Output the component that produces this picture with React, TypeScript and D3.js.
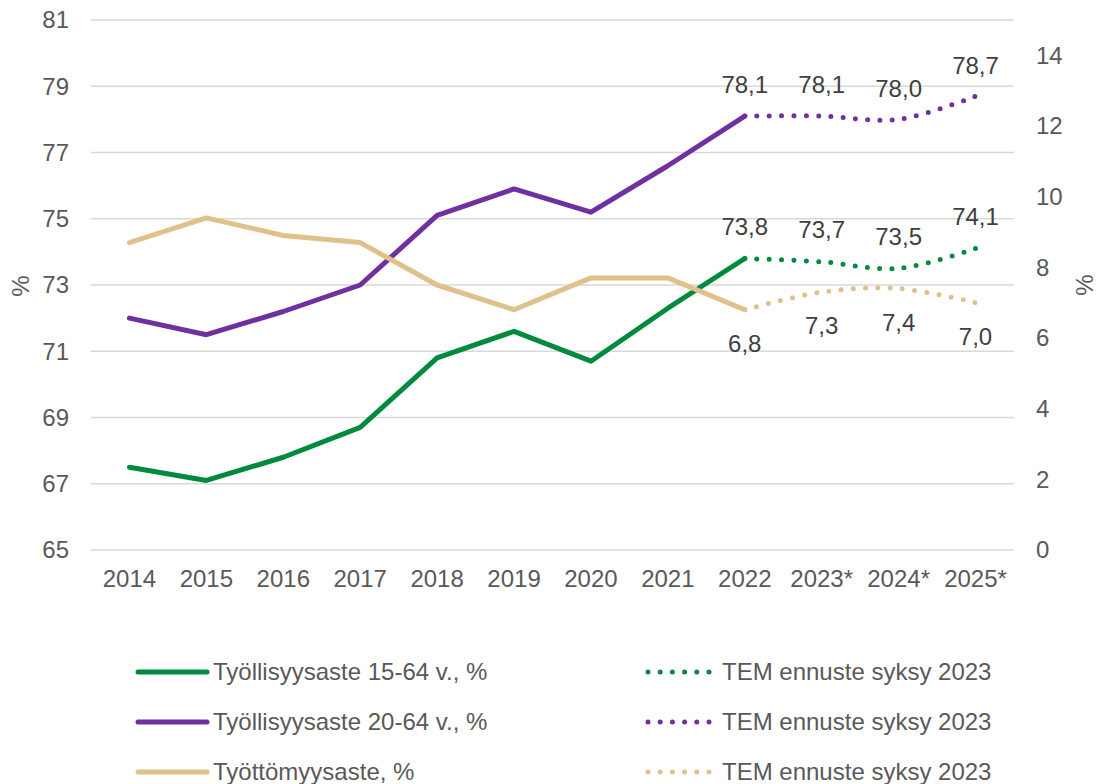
import React from 'react';
import * as d3 from 'd3';

const categories = ['2014', '2015', '2016', '2017', '2018', '2019', '2020', '2021', '2022', '2023*', '2024*', '2025*'];
const histCats = categories.slice(0, 9);
const fcCats = ['2022', '2023*', '2024*', '2025*'];

const emp1564 = [67.5, 67.1, 67.8, 68.7, 70.8, 71.6, 70.7, 72.3, 73.8];
const emp1564Forecast = [73.8, 73.7, 73.5, 74.1];
const emp2064 = [72.0, 71.5, 72.2, 73.0, 75.1, 75.9, 75.2, 76.6, 78.1];
const emp2064Forecast = [78.1, 78.1, 78.0, 78.7];
const unemp = [8.7, 9.4, 8.9, 8.7, 7.5, 6.8, 7.7, 7.7, 6.8];
const unempForecast = [6.8, 7.3, 7.4, 7.0];

const leftTicks = [65, 67, 69, 71, 73, 75, 77, 79, 81];
const rightTicks = [0, 2, 4, 6, 8, 10, 12, 14];

const legendLeft = ['Työllisyysaste 15-64 v., %', 'Työllisyysaste 20-64 v., %', 'Työttömyysaste, %'];
const legendRight = ['TEM ennuste syksy 2023', 'TEM ennuste syksy 2023', 'TEM ennuste syksy 2023'];

const GREEN = '#008A3E';
const PURPLE = '#7030A0';
const TAN = '#DFC18B';
const colors = [GREEN, PURPLE, TAN];
const TICK = '#595959';
const LABEL = '#404040';
const FONT = '"Liberation Sans", Arial, sans-serif';

export default function App() {
  const W = 1099, H = 784;
  const x = d3.scalePoint<string>().domain(categories).range([91, 1014]).padding(0.5);
  const yL = d3.scaleLinear().domain([65, 81]).range([550, 20]);
  const yR = d3.scaleLinear().domain([0, 15]).range([550, 20]);

  const lineL = d3.line<[string, number]>().x(d => x(d[0])!).y(d => yL(d[1]));
  const lineR = d3.line<[string, number]>().x(d => x(d[0])!).y(d => yR(d[1]));
  const smoothL = d3.line<[string, number]>().x(d => x(d[0])!).y(d => yL(d[1])).curve(d3.curveCardinal.tension(0));
  const smoothR = d3.line<[string, number]>().x(d => x(d[0])!).y(d => yR(d[1])).curve(d3.curveCardinal.tension(0));

  const zip = (cats: string[], vals: number[]) => cats.map((c, i) => [c, vals[i]] as [string, number]);
  const fmt = (v: number) => v.toFixed(1).replace('.', ',');

  const solid = { fill: 'none', strokeWidth: 5, strokeLinecap: 'round' as const, strokeLinejoin: 'round' as const };
  const dotted = { fill: 'none', strokeWidth: 5, strokeLinecap: 'round' as const, strokeDasharray: '0 12.3', strokeDashoffset: -12.3 };

  return (
    <svg width={W} height={H} style={{ position: 'absolute', left: 0, top: 0, background: '#fff' }} fontFamily={FONT}>
      {leftTicks.map(t => (
        <line key={'g' + t} x1={91} x2={1014} y1={yL(t)} y2={yL(t)} stroke="#d9d9d9" strokeWidth={1.5} />
      ))}
      {leftTicks.map(t => (
        <text key={'l' + t} x={69} y={yL(t)} dy="0.35em" textAnchor="end" fontSize={24} fill={TICK}>{t}</text>
      ))}
      {rightTicks.map(t => (
        <text key={'r' + t} x={1036} y={yR(t)} dy="0.35em" textAnchor="start" fontSize={24} fill={TICK}>{t}</text>
      ))}
      {categories.map(c => (
        <text key={'x' + c} x={x(c)} y={587} textAnchor="middle" fontSize={24} fill={TICK}>{c}</text>
      ))}
      <text transform="translate(29,286) rotate(-90)" textAnchor="middle" fontSize={24} fill={TICK}>%</text>
      <text transform="translate(1093,285) rotate(-90)" textAnchor="middle" fontSize={24} fill={TICK}>%</text>

      <path d={lineL(zip(histCats, emp1564))!} stroke={GREEN} {...solid} />
      <path d={lineL(zip(histCats, emp2064))!} stroke={PURPLE} {...solid} />
      <path d={lineR(zip(histCats, unemp))!} stroke={TAN} {...solid} />

      <path d={smoothL(zip(fcCats, emp1564Forecast))!} stroke={GREEN} {...dotted} />
      <path d={smoothL(zip(fcCats, emp2064Forecast))!} stroke={PURPLE} {...dotted} />
      <path d={smoothR(zip(fcCats, unempForecast))!} stroke={TAN} {...dotted} />

      {fcCats.map((c, i) => (
        <text key={'lg' + c} x={x(c)} y={yL(emp1564Forecast[i]) - 32} dy="0.35em" textAnchor="middle" fontSize={24} fill={LABEL}>{fmt(emp1564Forecast[i])}</text>
      ))}
      {fcCats.map((c, i) => (
        <text key={'lp' + c} x={x(c)} y={yL(emp2064Forecast[i]) - 31} dy="0.35em" textAnchor="middle" fontSize={24} fill={LABEL}>{fmt(emp2064Forecast[i])}</text>
      ))}
      {fcCats.map((c, i) => (
        <text key={'lt' + c} x={x(c)} y={yR(unempForecast[i]) + 34} dy="0.35em" textAnchor="middle" fontSize={24} fill={LABEL}>{fmt(unempForecast[i])}</text>
      ))}

      {legendLeft.map((s, i) => {
        const yy = 672 + i * 50;
        return (
          <g key={'lgl' + i}>
            <line x1={138} x2={207} y1={yy} y2={yy} stroke={colors[i]} strokeWidth={5} strokeLinecap="round" />
            <text x={213} y={yy} dy="0.35em" fontSize={24} fill={TICK}>{s}</text>
          </g>
        );
      })}
      {legendRight.map((s, i) => {
        const yy = 672 + i * 50;
        return (
          <g key={'lgr' + i}>
            <line x1={648} x2={710} y1={yy} y2={yy} stroke={colors[i]} strokeWidth={5} strokeLinecap="round" strokeDasharray="0 12.2" />
            <text x={722} y={yy} dy="0.35em" fontSize={24} fill={TICK}>{s}</text>
          </g>
        );
      })}
    </svg>
  );
}
